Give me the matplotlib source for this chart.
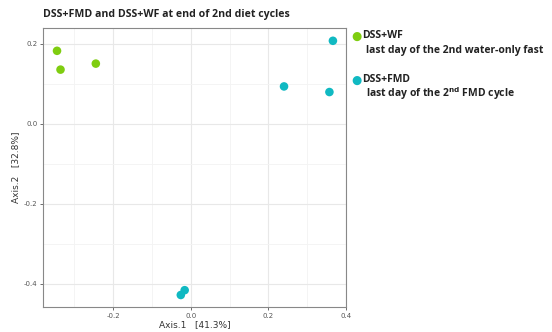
import matplotlib
matplotlib.use("Agg")
import matplotlib.pyplot as plt

# PCoA coordinates per group
wf_axis1 = [-0.345, -0.336, -0.245]
wf_axis2 = [0.182, 0.135, 0.150]
fmd_axis1 = [0.366, 0.240, 0.357, -0.016, -0.026]
fmd_axis2 = [0.207, 0.093, 0.079, -0.416, -0.428]

x_ticks = [-0.2, 0.0, 0.2, 0.4]
x_tick_labels = ["-0.2", "0.0", "0.2", "0.4"]
y_ticks = [0.2, 0.0, -0.2, -0.4]
y_tick_labels = ["0.2", "0.0", "-0.2", "-0.4"]

green = "#7fcd10"
teal = "#10b9c2"

fig = plt.figure(figsize=(5.52, 3.32), dpi=100)
fig.patch.set_facecolor("white")
ax = fig.add_axes([0.078, 0.0753, 0.549, 0.8404])

ax.set_xlim(-0.381, 0.4)
ax.set_ylim(-0.458, 0.239)

ax.set_xticks(x_ticks)
ax.set_xticklabels(x_tick_labels)
ax.set_yticks(y_ticks)
ax.set_yticklabels(y_tick_labels)
ax.set_xticks([-0.3, -0.1, 0.1, 0.3], minor=True)
ax.set_yticks([0.1, -0.1, -0.3], minor=True)

ax.grid(which="major", color="#e8e8e8", linewidth=0.8)
ax.grid(which="minor", color="#f3f3f3", linewidth=0.6)
ax.set_axisbelow(True)
ax.tick_params(which="major", labelsize=5, colors="#555555", length=2.5, width=0.6, pad=1.5)
ax.tick_params(which="minor", length=0)
for s in ax.spines.values():
    s.set_color("#888888")
    s.set_linewidth(0.8)

ax.scatter(wf_axis1, wf_axis2, s=38, color=green, edgecolors="none", zorder=3)
ax.scatter(fmd_axis1, fmd_axis2, s=38, color=teal, edgecolors="none", zorder=3)

ax.set_xlabel("Axis.1   [41.3%]", fontsize=6.5, color="#333333", labelpad=1)
ax.set_ylabel("Axis.2   [32.8%]", fontsize=6.5, color="#333333", labelpad=3)

fig.text(43 / 552, 1 - 15 / 332, "DSS+FMD and DSS+WF at end of 2nd diet cycles",
         fontsize=7.6, fontweight="bold", family="Open Sans", color="#222222",
         ha="left", va="center")

# legend drawn beside the panel
fig.text(356 / 552, 1 - 36 / 332, "\u25CF", color=green, fontsize=8.5,
         ha="center", va="center", family="DejaVu Sans")
fig.text(362 / 552, 1 - 36 / 332, "DSS+WF", fontsize=7.5, fontweight="bold",
         family="Open Sans", color="#222222", ha="left", va="center")
fig.text(366 / 552, 1 - 51 / 332, "last day of the 2nd water-only fast", fontsize=7.5,
         fontweight="bold", family="Open Sans", color="#222222", ha="left", va="center")
fig.text(356 / 552, 1 - 80 / 332, "\u25CF", color=teal, fontsize=8.5,
         ha="center", va="center", family="DejaVu Sans")
fig.text(362 / 552, 1 - 80 / 332, "DSS+FMD", fontsize=7.5, fontweight="bold",
         family="Open Sans", color="#222222", ha="left", va="center")
fig.text(366 / 552, 1 - 94 / 332, r"last day of the 2$^{\mathbf{nd}}$ FMD cycle", fontsize=7.5,
         fontweight="bold", family="Open Sans", color="#222222", ha="left", va="center")

fig.savefig("out.png", dpi=100, facecolor="white")
